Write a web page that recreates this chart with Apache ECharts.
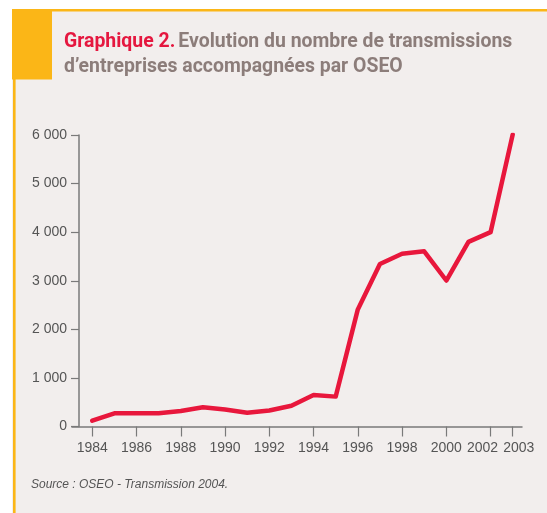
<!DOCTYPE html>
<html>
<head>
<meta charset="utf-8">
<title>Graphique 2</title>
<script src="https://cdn.jsdelivr.net/npm/echarts@6/dist/echarts.min.js"></script>
<style>
  html, body { margin: 0; padding: 0; background: #fff; }
  #main { width: 547px; height: 513px; }
</style>
</head>
<body>
<div id="main"></div>
<script>
// données
var years = [1984, 1985, 1986, 1987, 1988, 1989, 1990, 1991, 1992, 1993,
             1994, 1995, 1996, 1997, 1998, 1999, 2000, 2001, 2002, 2003];
var transmissions = [120, 272, 272, 275, 320, 395, 350, 285, 330, 428,
                     648, 615, 2410, 3345, 3555, 3605, 3005, 3800, 4000, 6010];
var yearTicks = [1984, 1986, 1988, 1990, 1992, 1994, 1996, 1998, 2000, 2002, 2003];
var valueTicks = [0, 1000, 2000, 3000, 4000, 5000, 6000];

var points = [];
for (var i = 0; i < years.length; i++) {
    points.push([years[i], transmissions[i]]);
}

var myChart = echarts.init(document.getElementById('main'));

var axisFont = '"Liberation Sans", Arial, sans-serif';
var titleFont = 'Roboto, "Noto Sans", sans-serif';

// police condensée : on resserre le titre horizontalement
var line1 = 'Graphique 2. Evolution du nombre de transmissions';
var cv = document.createElement('canvas').getContext('2d');
cv.font = 'bold 21px ' + titleFont;
var titleScale = 450 / cv.measureText(line1).width;

var option = {
    animation: false,
    backgroundColor: '#ffffff',
    graphic: [
        // fond du cadre
        { type: 'rect', shape: { x: 12, y: 9, width: 535, height: 504 }, style: { fill: '#f2eeed' }, z: -10 },
        // filet jaune du haut
        { type: 'rect', shape: { x: 12, y: 9, width: 535, height: 2.5 }, style: { fill: '#fbb617' }, z: -9 },
        // filet jaune gauche
        { type: 'rect', shape: { x: 13, y: 9, width: 2.6, height: 504 }, style: { fill: '#fbb617' }, z: -9 },
        // carre jaune
        { type: 'rect', shape: { x: 12, y: 9, width: 40, height: 70.5 }, style: { fill: '#fbb617' }, z: -9 },
        // titre
        {
            type: 'text', x: 64, y: 29, scaleX: titleScale, originX: 0, originY: 0,
            style: {
                text: '{a|Graphique 2.} {b|Evolution du nombre de transmissions}\n{b|d\u2019entreprises accompagnées par OSEO}',
                rich: {
                    a: { fill: '#e5173f', font: 'bold 21px ' + titleFont, lineHeight: 25 },
                    b: { fill: '#8c7d7a', font: 'bold 21px ' + titleFont, lineHeight: 25 }
                }
            }
        },
        // source
        {
            type: 'text', left: 31, top: 479,
            style: {
                text: 'Source : OSEO - Transmission 2004.',
                font: 'italic 12px ' + axisFont,
                fill: '#555555'
            }
        }
    ],
    grid: {
        left: 72,
        right: 25,
        top: 135,
        bottom: 86.5
    },
    xAxis: {
        type: 'value',
        min: 1983.083,
        max: 2003.42,
        splitLine: { show: false },
        axisLine: { show: true, lineStyle: { color: '#7a7a7a', width: 1.5 } },
        axisTick: { show: true, length: 10, customValues: yearTicks, lineStyle: { color: '#7a7a7a', width: 1.2 } },
        axisLabel: {
            customValues: yearTicks,
            hideOverlap: false,
            margin: 15,
            color: '#555555',
            fontSize: 14,
            fontFamily: axisFont,
            formatter: function (v) {
                // les deux dernières étiquettes sont décalées pour ne pas se chevaucher
                if (v === 2002) return '{l|' + v + '}';
                if (v === 2003) return '{r|' + v + '}';
                return String(v);
            },
            rich: {
                l: { color: '#555555', fontSize: 14, fontFamily: axisFont, padding: [0, 16, 0, 0] },
                r: { color: '#555555', fontSize: 14, fontFamily: axisFont, padding: [0, 0, 0, 12] }
            }
        }
    },
    yAxis: {
        type: 'value',
        min: 0,
        max: 6000,
        interval: 1000,
        offset: -7,
        splitLine: { show: false },
        axisLine: { show: true, lineStyle: { color: '#7a7a7a', width: 1.5 } },
        axisTick: { show: true, length: 8, lineStyle: { color: '#7a7a7a', width: 1.2 } },
        axisLabel: {
            margin: 12,
            color: '#555555',
            fontSize: 14,
            fontFamily: axisFont,
            formatter: function (v) {
                return v === 0 ? '0' : (v / 1000) + ' 000';
            }
        }
    },
    series: [{
        type: 'line',
        data: points,
        symbol: 'none',
        lineStyle: { color: '#e8173c', width: 4.5, cap: 'round', join: 'round' }
    }]
};

myChart.setOption(option);
</script>
</body>
</html>
